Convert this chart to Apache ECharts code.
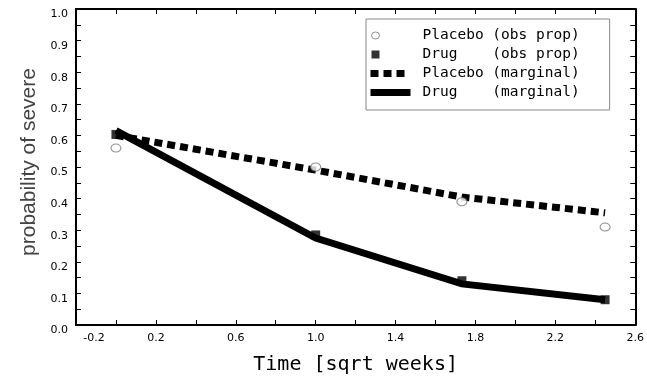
<!DOCTYPE html>
<html>
<head>
<meta charset="utf-8">
<script src="https://cdn.jsdelivr.net/npm/echarts@6/dist/echarts.min.js"></script>
<style>
html,body{margin:0;padding:0;background:#fff;}
#chart{width:647px;height:380px;}
</style>
</head>
<body>
<div id="chart"></div>
<script>
// ---- data ----
var timeSqrtWeeks   = [0, 1, 1.732, 2.449];
var placeboObsProp  = [0.56, 0.50, 0.39, 0.31];
var drugObsProp     = [0.603, 0.285, 0.14, 0.08];
var placeboMarginal = [0.60, 0.49, 0.405, 0.355];
var drugMarginal    = [0.615, 0.275, 0.13, 0.08];
var xTickLabels = ['-0.2', '0.2', '0.6', '1.0', '1.4', '1.8', '2.2', '2.6'];
var yTickLabels = ['0.0', '0.1', '0.2', '0.3', '0.4', '0.5', '0.6', '0.7', '0.8', '0.9', '1.0'];
var seriesNames = ['Placebo (obs prop)', 'Drug    (obs prop)', 'Placebo (marginal)', 'Drug    (marginal)'];

function pairs(xs, ys) { return xs.map(function (x, i) { return [x, ys[i]]; }); }

var chart = echarts.init(document.getElementById('chart'), null, {renderer: 'canvas'});

var axisCommon = {
  axisLine: {show: true, onZero: false, lineStyle: {color: '#000', width: 2}},
  axisTick: {show: true, inside: true, length: 5, lineStyle: {color: '#000', width: 1}},
  splitLine: {show: false}
};

var option = {
  animation: false,
  backgroundColor: '#fff',
  grid: {left: 76, right: 9, top: 9, bottom: 51, containLabel: false},
  legend: {
    orient: 'vertical',
    left: 366, top: 19,
    padding: [9, 30, 10, 4],
    itemGap: 4,
    itemWidth: 40, itemHeight: 10,
    selectedMode: false,
    borderColor: '#888', borderWidth: 1,
    backgroundColor: '#fff',
    textStyle: {fontFamily: 'DejaVu Sans Mono', fontSize: 14.5, lineHeight: 14, color: '#000', padding: [0, 0, 0, 7]},
    data: [
      {name: seriesNames[0], icon: 'path://M0,0M40,10M1,5A4,3.5 0 1,1 9,5A4,3.5 0 1,1 1,5Z',
        itemStyle: {color: '#fff', borderColor: '#777', borderWidth: 1}},
      {name: seriesNames[1], icon: 'path://M0,0M40,10M1,1H9V9H1Z', itemStyle: {color: '#000'}},
      {name: seriesNames[2], icon: 'path://M0,0M40,10M0,1.5H8V8.5H0Z M13,1.5H21V8.5H13Z M26,1.5H34V8.5H26Z', itemStyle: {color: '#000'}},
      {name: seriesNames[3], icon: 'path://M0,0M40,10M0,1.5H40V8.5H0Z', itemStyle: {color: '#000'}}
    ]
  },
  xAxis: [
    Object.assign({}, axisCommon, {
      type: 'value', position: 'bottom', min: -0.2, max: 2.6, interval: 0.2,
      name: 'Time [sqrt weeks]', nameLocation: 'middle', nameGap: 30,
      nameTextStyle: {fontFamily: 'DejaVu Sans Mono', fontSize: 20, color: '#000'},
      axisLabel: {
        margin: 8, fontFamily: 'DejaVu Sans', fontSize: 11, color: '#000',
        formatter: function (v) {
          var s = v.toFixed(1);
          if (s === '-0.0') s = '0.0';
          if (xTickLabels.indexOf(s) < 0) return '';
          if (s === xTickLabels[0]) return '{first|' + s + '}';
          return s;
        },
        rich: {first: {fontFamily: 'DejaVu Sans', fontSize: 11, color: '#000', padding: [0, 0, 0, 36]}}
      }
    }),
    Object.assign({}, axisCommon, {
      type: 'value', position: 'top', min: -0.2, max: 2.6, interval: 0.2,
      axisLabel: {show: false}
    })
  ],
  yAxis: [
    Object.assign({}, axisCommon, {
      type: 'value', position: 'left', min: 0, max: 1, interval: 0.05,
      axisLabel: {
        margin: 8, fontFamily: 'DejaVu Sans', fontSize: 11, color: '#000', verticalAlign: 'top',
        formatter: function (v) {
          var s = v.toFixed(1);
          return (yTickLabels.indexOf(s) >= 0 && Math.abs(v * 10 - Math.round(v * 10)) < 1e-6) ? s : '';
        }
      }
    }),
    Object.assign({}, axisCommon, {
      type: 'value', position: 'right', min: 0, max: 1, interval: 0.05,
      axisLabel: {show: false}
    })
  ],
  graphic: [{
    type: 'text', x: 29, y: 162, rotation: Math.PI / 2,
    style: {text: 'probability of severe', fontFamily: 'Liberation Sans', fontSize: 21, fill: '#444',
      align: 'center', verticalAlign: 'middle'}
  }],
  series: [
    {name: seriesNames[2], type: 'line', data: pairs(timeSqrtWeeks, placeboMarginal), showSymbol: false, z: 2,
      lineStyle: {color: '#000', width: 7, type: [8, 5], cap: 'butt'}, itemStyle: {color: '#000'}},
    {name: seriesNames[3], type: 'line', data: pairs(timeSqrtWeeks, drugMarginal), showSymbol: false, z: 2,
      lineStyle: {color: '#000', width: 7, type: 'solid', cap: 'butt', join: 'miter'}, itemStyle: {color: '#000'}},
    {name: seriesNames[0], type: 'scatter', data: pairs(timeSqrtWeeks, placeboObsProp), z: 4,
      symbol: 'circle', symbolSize: [10, 8],
      itemStyle: {color: '#fff', borderColor: '#777', borderWidth: 1}},
    {name: seriesNames[1], type: 'scatter', data: pairs(timeSqrtWeeks, drugObsProp), z: 4,
      symbol: 'rect', symbolSize: 9, itemStyle: {color: '#000'}}
  ]
};
chart.setOption(option);
</script>
</body>
</html>
